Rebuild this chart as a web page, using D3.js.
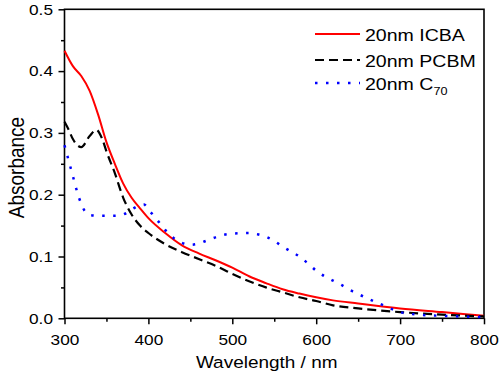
<!DOCTYPE html>
<html>
<head>
<meta charset="utf-8">
<script src="https://cdn.jsdelivr.net/npm/d3@7"></script>
<style>
  body { margin: 0; background: #fff; }
  svg { display: block; }
  text { font-family: Arial, "Liberation Sans", sans-serif; fill: #000; }
</style>
</head>
<body>
<div id="chart"></div>
<script>
// data (wavelength in nm, absorbance)
const wlICBA  = [300, 310, 320, 330, 340, 350, 360, 370, 380, 390, 400, 420, 440, 460, 480, 500, 520, 540, 560, 580, 600, 620, 650, 700, 750, 800];
const absICBA = [0.433, 0.408, 0.392, 0.368, 0.330, 0.285, 0.250, 0.218, 0.195, 0.178, 0.162, 0.138, 0.118, 0.105, 0.094, 0.082, 0.068, 0.057, 0.047, 0.040, 0.034, 0.029, 0.024, 0.016, 0.010, 0.004];

const wlPCBM  = [300, 305, 310, 320, 330, 338, 345, 350, 360, 370, 380, 390, 400, 420, 440, 460, 480, 500, 520, 540, 560, 580, 600, 620, 650, 700, 750, 800];
const absPCBM = [0.318, 0.305, 0.290, 0.277, 0.295, 0.305, 0.290, 0.270, 0.235, 0.195, 0.168, 0.150, 0.138, 0.120, 0.107, 0.096, 0.085, 0.072, 0.060, 0.050, 0.042, 0.034, 0.028, 0.021, 0.016, 0.010, 0.006, 0.003];

const wlC70  = [300, 305, 310, 315, 320, 325, 330, 340, 360, 370, 380, 390, 395, 400, 410, 420, 430, 440, 450, 460, 470, 480, 490, 500, 520, 530, 540, 550, 560, 570, 580, 590, 600, 610, 620, 630, 640, 660, 680, 700, 720, 750, 800];
const absC70 = [0.280, 0.255, 0.230, 0.205, 0.185, 0.172, 0.167, 0.166, 0.166, 0.168, 0.176, 0.183, 0.184, 0.176, 0.160, 0.143, 0.130, 0.122, 0.119, 0.121, 0.126, 0.131, 0.135, 0.137, 0.138, 0.136, 0.132, 0.125, 0.116, 0.108, 0.100, 0.089, 0.077, 0.068, 0.061, 0.054, 0.046, 0.033, 0.021, 0.010, 0.006, 0.004, 0.002];

const xTicks = [300, 400, 500, 600, 700, 800];
const xMinor = [350, 450, 550, 650, 750];
const yTicks = [0.0, 0.1, 0.2, 0.3, 0.4, 0.5];
const yMinor = [0.05, 0.15, 0.25, 0.35, 0.45];

const legendNames = ["20nm ICBA", "20nm PCBM", "20nm C"];

let width = 500,
    height = 374;
let margin = {left: 64.5, right: 16, top: 9.3, bottom: 55.7};
const stretch = 1.15;   // the picture is a little wider than tall

let svg = d3.select("#chart")
    .append("svg")
    .attr("width", width)
    .attr("height", height);

let x = d3.scaleLinear()
    .domain([300, 800])
    .range([margin.left, width - margin.right]);

let y = d3.scaleLinear()
    .domain([0, 0.5])
    .range([height - margin.bottom, margin.top]);

// ticks (outward, no domain path)
let xAxis = svg.append("g")
    .attr("transform", `translate(0, ${height - margin.bottom})`)
    .call(d3.axisBottom(x).tickValues(xTicks).tickFormat(d3.format("d"))
        .tickSize(6).tickSizeOuter(0).tickPadding(10));
svg.append("g")
    .attr("transform", `translate(0, ${height - margin.bottom})`)
    .call(d3.axisBottom(x).tickValues(xMinor).tickFormat("").tickSize(3.5).tickSizeOuter(0));

let yAxis = svg.append("g")
    .attr("transform", `translate(${margin.left}, 0)`)
    .call(d3.axisLeft(y).tickValues(yTicks).tickFormat(d3.format(".1f"))
        .tickSize(6).tickSizeOuter(0).tickPadding(4));
svg.append("g")
    .attr("transform", `translate(${margin.left}, 0)`)
    .call(d3.axisLeft(y).tickValues(yMinor).tickFormat("").tickSize(3.5).tickSizeOuter(0));

svg.selectAll(".domain").remove();
svg.selectAll(".tick line").attr("stroke", "#000").attr("stroke-width", 1.5);
svg.selectAll(".tick text")
    .attr("font-family", null)
    .style("font-size", "15px")
    .attr("transform", `scale(${stretch},1)`);

// frame
svg.append("rect")
    .attr("x", x(300))
    .attr("y", y(0.5))
    .attr("width", x(800) - x(300))
    .attr("height", y(0) - y(0.5))
    .attr("fill", "none")
    .attr("stroke", "#000")
    .attr("stroke-width", 1.6);

// curves
let line = d3.line()
    .x(function(d) { return x(d[0]); })
    .y(function(d) { return y(d[1]); })
    .curve(d3.curveMonotoneX);

let series = [
    {wl: wlICBA, abs: absICBA, color: "#ff0000", dash: null, w: 2},
    {wl: wlPCBM, abs: absPCBM, color: "#000000", dash: "9,5", w: 2.2},
    {wl: wlC70, abs: absC70, color: "#0000ff", dash: "2.5,8.5", w: 2.5}
];

series.forEach(function(s) {
    svg.append("path")
        .datum(d3.zip(s.wl, s.abs))
        .attr("fill", "none")
        .attr("stroke", s.color)
        .attr("stroke-width", s.w)
        .attr("stroke-dasharray", s.dash)
        .attr("d", line);
});

// legend
let legendY = [34, 60, 83];
series.forEach(function(s, i) {
    svg.append("line")
        .attr("x1", 315).attr("x2", 360)
        .attr("y1", legendY[i]).attr("y2", legendY[i])
        .attr("stroke", s.color)
        .attr("stroke-width", s.w)
        .attr("stroke-dasharray", s.dash);
    let t = svg.append("text")
        .attr("transform", `translate(365, ${legendY[i] + 6.5}) scale(${stretch},1)`)
        .style("font-size", "17px")
        .text(legendNames[i]);
    if (i === 2) {
        t.append("tspan")
            .attr("dy", 5)
            .style("font-size", "11px")
            .text("70");
    }
});

// axis titles
svg.append("text")
    .attr("transform", `translate(266.7, 368) scale(${stretch},1)`)
    .style("text-anchor", "middle")
    .style("font-size", "16.5px")
    .text("Wavelength / nm");

svg.append("text")
    .attr("transform", `translate(24, 167.5) scale(${stretch},1) rotate(-90)`)
    .style("text-anchor", "middle")
    .style("font-size", "19px")
    .text("Absorbance");
</script>
</body>
</html>
